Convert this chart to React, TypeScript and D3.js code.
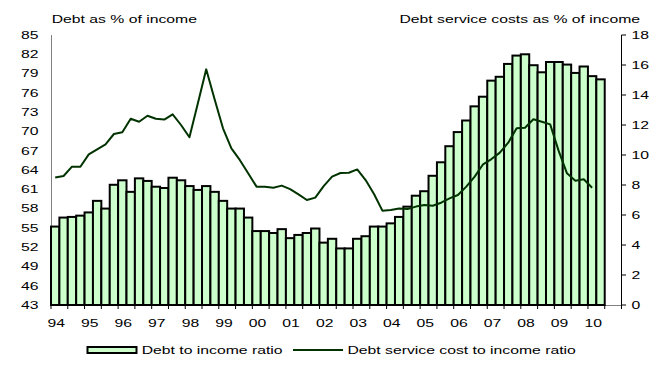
import React from "react";
import * as d3 from "d3";

const yearLabels = ["94","95","96","97","98","99","00","01","02","03","04","05","06","07","08","09","10"];
const debtToIncome = [
  55.2, 56.6, 56.7, 56.9, 57.4, 59.2, 58.0, 61.7, 62.4, 60.6,
  62.7, 62.3, 61.4, 61.2, 62.8, 62.4, 61.5, 60.9, 61.5, 60.6,
  59.2, 58.0, 58.0, 56.6, 54.5, 54.5, 54.2, 54.8, 53.4, 53.9,
  54.2, 54.9, 52.7, 53.3, 51.8, 51.8, 53.3, 53.7, 55.2, 55.2,
  55.7, 56.7, 58.3, 60.0, 60.7, 63.1, 65.2, 67.7, 69.9, 71.7,
  73.9, 75.4, 77.9, 78.5, 80.5, 81.8, 82.0, 80.3, 79.2, 80.8,
  80.8, 80.4, 79.1, 80.1, 78.6, 78.1
];
const debtServiceCost = [
  8.5, 8.6, 9.22, 9.22, 10.04, 10.38, 10.71, 11.4, 11.51, 12.42,
  12.22, 12.62, 12.42, 12.36, 12.71, 12.0, 11.18, 13.44, 15.71, 13.71,
  11.78, 10.44, 9.67, 8.78, 7.89, 7.89, 7.82, 7.96, 7.73, 7.38,
  7.0, 7.16, 7.93, 8.56, 8.8, 8.82, 9.04, 8.33, 7.4, 6.29,
  6.33, 6.44, 6.4, 6.56, 6.67, 6.62, 6.82, 7.11, 7.33, 7.89,
  8.56, 9.38, 9.73, 10.16, 10.82, 11.78, 11.82, 12.38, 12.22, 12.04,
  10.29, 8.78, 8.29, 8.38, 7.82
];
const leftTicks = [43, 46, 49, 52, 55, 58, 61, 64, 67, 70, 73, 76, 79, 82, 85];
const rightTicks = [0, 2, 4, 6, 8, 10, 12, 14, 16, 18];
const categoryCount = 68; // 1994Q1 .. 2010Q4

const W = 649, H = 369;
const left = 51, right = 621.5, top = 35, bottom = 305;
const FONT = "'Liberation Sans', Arial, sans-serif";
const FS = 10.5;
const SX = 1.5;

function T({ x, y, anchor = "start", children }: any) {
  return (
    <text
      transform={`translate(${x},${y}) scale(${SX},1)`}
      textAnchor={anchor}
      fontFamily={FONT}
      fontSize={FS}
      fill="#000"
    >
      {children}
    </text>
  );
}

export default function App() {
  const idx = d3.range(categoryCount);
  const x = d3.scaleBand<number>().domain(idx).range([left, right]).paddingInner(0).paddingOuter(0);
  const yL = d3.scaleLinear().domain([43, 85]).range([bottom, top]);
  const yR = d3.scaleLinear().domain([0, 18]).range([bottom, top]);
  const bw = x.bandwidth();
  const cx = (i: number) => (x(i) as number) + bw / 2;

  const line = d3
    .line<number>()
    .x((_, i) => cx(i))
    .y((d) => yR(d));

  const tickIdx = d3.range(0, categoryCount + 1, 2);

  return (
    <svg width={W} height={H} style={{ position: "fixed", left: 0, top: 0, background: "#fff" }}>
      {/* titles */}
      <T x={51.7} y={22.5}>Debt as % of income</T>
      <T x={640} y={22.5} anchor="end">Debt service costs as % of income</T>

      {/* left axis */}
      <line x1={left + 0.5} x2={left + 0.5} y1={top} y2={bottom} stroke="#808080" strokeWidth={1} />
      {leftTicks.map((t) => (
        <T key={"l" + t} x={38.5} y={yL(t) + 3.8} anchor="end">{t}</T>
      ))}

      {/* right axis */}
      <line x1={right} x2={right} y1={top} y2={bottom} stroke="#000" strokeWidth={1} />
      {rightTicks.map((t) => (
        <g key={"r" + t}>
          <line x1={right} x2={right + 4.5} y1={yR(t)} y2={yR(t)} stroke="#000" strokeWidth={1} />
          <T x={631.5} y={yR(t) + 3.8}>{t}</T>
        </g>
      ))}

      {/* bottom axis */}
      <line x1={left} x2={right} y1={bottom + 0.5} y2={bottom + 0.5} stroke="#808080" strokeWidth={1} />
      {tickIdx.map((i) => {
        const xx = left + i * bw;
        return <line key={"bt" + i} x1={xx} x2={xx} y1={bottom} y2={bottom + 4} stroke="#000" strokeWidth={1} />;
      })}
      {yearLabels.map((lab, k) => (
        <T key={"x" + lab} x={cx(k * 4) + 1} y={327} anchor="middle">{lab}</T>
      ))}

      {/* bars */}
      {debtToIncome.map((v, i) => (
        <rect
          key={"b" + i}
          x={x(i) as number}
          y={yL(v)}
          width={bw}
          height={bottom - yL(v)}
          fill="#CCFFCC"
          stroke="#000"
          strokeWidth={2}
        />
      ))}

      {/* line */}
      <path d={line(debtServiceCost) || ""} fill="none" stroke="#003300" strokeWidth={2} strokeLinejoin="round" />

      {/* legend */}
      <rect x={87.5} y={347} width={49} height={6} fill="#CCFFCC" stroke="#000" strokeWidth={2} />
      <T x={141.7} y={354}>Debt to income ratio</T>
      <line x1={293} x2={343} y1={350} y2={350} stroke="#003300" strokeWidth={2} />
      <T x={347.5} y={354}>Debt service cost to income ratio</T>
    </svg>
  );
}
